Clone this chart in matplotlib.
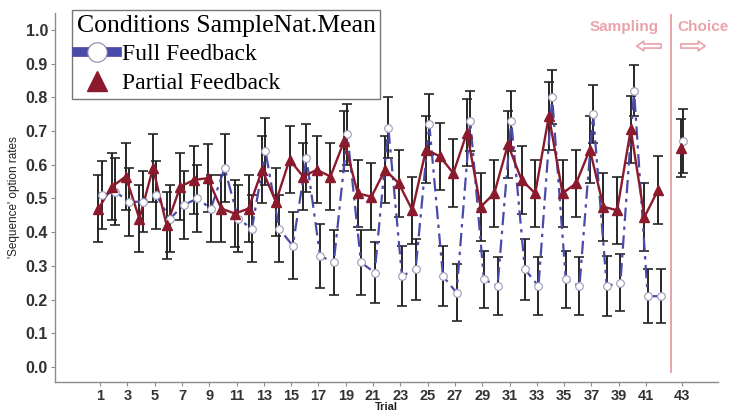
import matplotlib
matplotlib.use("Agg")
import matplotlib.pyplot as plt
from matplotlib.lines import Line2D
import numpy as np

# ---------------- data ----------------
trials = list(range(1, 43))
full_mean = [0.51, 0.52, 0.49, 0.49, 0.51, 0.44, 0.48, 0.50, 0.47, 0.59,
             0.44, 0.41, 0.64, 0.41, 0.36, 0.62, 0.33, 0.31, 0.69, 0.31,
             0.28, 0.71, 0.27, 0.29, 0.72, 0.27, 0.22, 0.73, 0.26, 0.24,
             0.73, 0.29, 0.24, 0.80, 0.26, 0.24, 0.75, 0.24, 0.25, 0.82,
             0.21, 0.21]
full_err = [0.10, 0.10, 0.10, 0.09, 0.10, 0.10, 0.10, 0.10, 0.10, 0.10,
            0.10, 0.10, 0.10, 0.10, 0.10, 0.10, 0.095, 0.095, 0.09, 0.095,
            0.09, 0.09, 0.09, 0.09, 0.09, 0.09, 0.085, 0.09, 0.085, 0.085,
            0.09, 0.09, 0.085, 0.08, 0.085, 0.085, 0.085, 0.09, 0.085, 0.075,
            0.08, 0.08]
partial_mean = [0.47, 0.535, 0.565, 0.44, 0.59, 0.42, 0.535, 0.555, 0.56, 0.47,
                0.455, 0.47, 0.585, 0.49, 0.615, 0.565, 0.585, 0.565, 0.67, 0.515,
                0.505, 0.585, 0.545, 0.465, 0.645, 0.625, 0.575, 0.695, 0.475, 0.515,
                0.66, 0.555, 0.515, 0.745, 0.515, 0.545, 0.645, 0.475, 0.465, 0.705,
                0.445, 0.525]
partial_err = [0.10, 0.10, 0.10, 0.10, 0.10, 0.10, 0.10, 0.10, 0.10, 0.10,
               0.10, 0.10, 0.10, 0.10, 0.10, 0.10, 0.10, 0.10, 0.09, 0.10,
               0.10, 0.10, 0.10, 0.10, 0.10, 0.10, 0.10, 0.10, 0.10, 0.10,
               0.10, 0.10, 0.10, 0.10, 0.10, 0.10, 0.10, 0.10, 0.10, 0.10,
               0.10, 0.10]
choice_full_mean = 0.67
choice_full_err = 0.095
choice_partial_mean = 0.65
choice_partial_err = 0.085

tick_labels = [str(t) for t in range(1, 42, 2)] + ["43"]
ytick_vals = [round(0.1 * i, 1) for i in range(11)]

# ---------------- layout / style ----------------
CHOICE_X = 43.65
VLINE_X = 42.85
DODGE = 0.12
full_col = "#4a4aa8"
part_col = "#8b1a2c"
err_col = "#262626"
pink = "#e9a3a9"

fig = plt.figure(figsize=(7.32, 4.13), dpi=100)
ax = fig.add_axes([55/732, 1-382/413, (718-55)/732, (382-13)/413])

tx = np.array(trials, dtype=float)
fx = tx + DODGE
px = tx - DODGE

eb_kw = dict(fmt='none', ecolor=err_col, elinewidth=1.4, capsize=3.5, capthick=1.2, zorder=1)
ax.errorbar(px, partial_mean, yerr=partial_err, **eb_kw)
ax.errorbar(fx, full_mean, yerr=full_err, **eb_kw)
ax.errorbar([CHOICE_X - DODGE/2], [choice_partial_mean], yerr=[choice_partial_err], **eb_kw)
ax.errorbar([CHOICE_X + DODGE/2], [choice_full_mean], yerr=[choice_full_err], **eb_kw)

# lines
ax.plot(fx, full_mean, color=full_col, lw=1.6, ls=(0, (6, 2.5, 1.5, 2.5)), zorder=2)
ax.plot(px, partial_mean, color=part_col, lw=1.7, ls='-', zorder=3)

# markers
ax.plot(fx, full_mean, ls='none', marker='o', ms=5.5, mfc='white', mec='#9a9ab8',
        mew=0.8, zorder=4)
ax.plot(px, partial_mean, ls='none', marker='^', ms=6.5, mfc=part_col, mec=part_col,
        zorder=5)
ax.plot([CHOICE_X + DODGE/2], [choice_full_mean], ls='none', marker='o', ms=5.5,
        mfc='white', mec='#9a9ab8', mew=0.8, zorder=4)
ax.plot([CHOICE_X - DODGE/2], [choice_partial_mean], ls='none', marker='^', ms=6.5,
        mfc=part_col, mec=part_col, zorder=5)

# vertical separator
ax.plot([VLINE_X, VLINE_X], [-0.015, 1.045], color=pink, lw=1.4, zorder=0)

# axes
ax.set_xlim(-2.3, 46.27)
ax.set_ylim(-0.0445, 1.05)
xt = list(range(1, 42, 2)) + [CHOICE_X]
ax.set_xticks(xt)
ax.set_xticklabels(tick_labels, fontsize=10.5, fontweight='bold', color='#333333',
                   family='Liberation Sans')
ax.set_yticks(ytick_vals)
ax.set_yticklabels([f"{v:.1f}" for v in ytick_vals], fontsize=11.5, fontweight='bold',
                   color='#333333', family='Liberation Sans')
for s in ['top', 'right']:
    ax.spines[s].set_visible(False)
for s in ['left', 'bottom']:
    ax.spines[s].set_color('#8c8c8c')
    ax.spines[s].set_linewidth(1.0)
ax.tick_params(axis='both', length=3, color='#8c8c8c', pad=2)

ax.set_ylabel("'Sequence' option rates", fontsize=8.5, family='Liberation Sans',
              color='#222222', labelpad=4)
ax.set_xlabel("Trial", fontsize=8, fontweight='bold', family='Liberation Sans',
              color='#222222', labelpad=-1)

# legend
h_full = Line2D([0], [0], color=full_col, lw=7, marker='o', ms=14, mfc='white',
                mec='#8888aa', mew=0.8)
h_part = Line2D([0], [0], color=part_col, lw=0, marker='^', ms=15, mfc=part_col,
                mec=part_col)
leg = ax.legend([h_full, h_part], ["Full Feedback", "Partial Feedback"],
                title="Conditions SampleNat.Mean", loc='upper left',
                bbox_to_anchor=((72-55)/663, (382-10)/369),
                prop={'family': 'Liberation Serif', 'size': 17},
                title_fontproperties={'family': 'Liberation Serif', 'size': 18.5},
                frameon=True, fancybox=False, framealpha=1, edgecolor='#777777',
                handlelength=1.7, handletextpad=0.2, borderpad=0.2,
                labelspacing=0.3, borderaxespad=0, alignment='left')
leg.get_frame().set_linewidth(1.0)

# sampling / choice annotations
fig.text(590/732, 1-27/413, "Sampling", fontsize=11, fontweight='bold', color=pink,
         family='Liberation Sans', va='center', ha='left')
fig.text(677/732, 1-27/413, "Choice", fontsize=11, fontweight='bold', color=pink,
         family='Liberation Sans', va='center', ha='left')
arrow_kw = dict(arrowstyle='simple,head_length=0.5,head_width=0.7,tail_width=0.3',
                fc='white', ec=pink, lw=1.2)
ax.annotate('', xy=(634/732, 1-46/413), xytext=(664/732, 1-46/413),
            xycoords='figure fraction', textcoords='figure fraction',
            arrowprops=arrow_kw)
ax.annotate('', xy=(708/732, 1-46/413), xytext=(678/732, 1-46/413),
            xycoords='figure fraction', textcoords='figure fraction',
            arrowprops=arrow_kw)

fig.savefig("out.png", dpi=100)
